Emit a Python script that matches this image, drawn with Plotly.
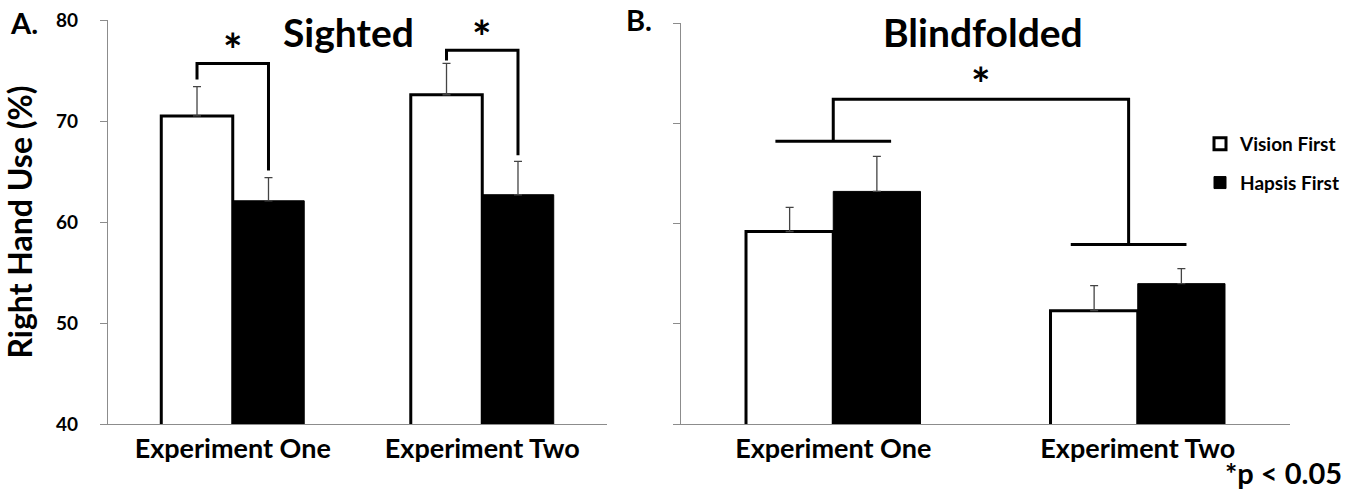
import plotly.graph_objects as go

# ---- data ----
experiments = ["Experiment One", "Experiment Two"]
sighted_vision = [70.5, 72.6]
sighted_vision_err = [2.9, 3.1]
sighted_hapsis = [62.1, 62.7]
sighted_hapsis_err = [2.3, 3.3]
blind_vision = [59.2, 51.3]
blind_vision_err = [2.4, 2.5]
blind_hapsis = [63.2, 54.0]
blind_hapsis_err = [3.5, 1.5]
y_ticks = [40, 50, 60, 70, 80]

# significance bracket levels (data units)
sighted_bracket_top = [75.7, 77.0]
sighted_bracket_left = [74.1, 76.0]
sighted_bracket_right = [65.1, 66.6]
blind_bracket_top = 72.4
blind_bracket_bars = [68.2, 57.9]

FONT = "Lato"
W, H = 1362, 491

fig = go.Figure()

def add_pair(vis, vis_err, hap, hap_err, xa, ya, show):
    fig.add_trace(go.Bar(
        x=experiments, y=vis, name="Vision First", xaxis=xa, yaxis=ya,
        marker=dict(color="white", line=dict(color="black", width=3)),
        error_y=dict(type="data", symmetric=False, array=vis_err,
                     arrayminus=[0] * len(vis_err), color="#444", thickness=1.3, width=4),
        showlegend=show, legendgroup="v"))
    fig.add_trace(go.Bar(
        x=experiments, y=hap, name="Hapsis First", xaxis=xa, yaxis=ya,
        marker=dict(color="black", line=dict(color="black", width=1)),
        error_y=dict(type="data", symmetric=False, array=hap_err,
                     arrayminus=[0] * len(hap_err), color="#444", thickness=1.3, width=4),
        showlegend=show, legendgroup="h"))

add_pair(sighted_vision, sighted_vision_err, sighted_hapsis, sighted_hapsis_err, "x", "y", True)
add_pair(blind_vision, blind_vision_err, blind_hapsis, blind_hapsis_err, "x2", "y2", False)

bargap = 0.427
half = (1 - bargap) / 4  # offset of each bar center from group center

line = dict(color="black", width=3)
# Sighted brackets
for i in range(2):
    xl, xr = i - half, i + half
    fig.add_shape(type="path", xref="x", yref="y", line=line,
                  path=f"M {xl} {sighted_bracket_left[i]} L {xl} {sighted_bracket_top[i]} "
                       f"L {xr} {sighted_bracket_top[i]} L {xr} {sighted_bracket_right[i]}")
    fig.add_annotation(x=i, y=sighted_bracket_top[i], xref="x", yref="y", text="<b>*</b>",
                       showarrow=False, yanchor="bottom", yshift=-16,
                       font=dict(family=FONT, size=46, color="black"))

# Blindfolded bracket
hw = 0.19
c0, c1 = 0.0, 0.97
fig.add_shape(type="line", xref="x2", yref="y2", x0=c0 - hw, x1=c0 + hw,
              y0=blind_bracket_bars[0], y1=blind_bracket_bars[0], line=line)
fig.add_shape(type="line", xref="x2", yref="y2", x0=c1 - hw, x1=c1 + hw,
              y0=blind_bracket_bars[1], y1=blind_bracket_bars[1], line=line)
fig.add_shape(type="path", xref="x2", yref="y2", line=line,
              path=f"M {c0} {blind_bracket_bars[0]} L {c0} {blind_bracket_top} "
                   f"L {c1} {blind_bracket_top} L {c1} {blind_bracket_bars[1]}")
fig.add_annotation(x=(c0 + c1) / 2, y=blind_bracket_top, xref="x2", yref="y2", text="<b>*</b>",
                   showarrow=False, yanchor="bottom", yshift=-14,
                   font=dict(family=FONT, size=46, color="black"))

axis_common = dict(showline=True, linecolor="#8c8c8c", linewidth=1.3, showgrid=False,
                   zeroline=False, automargin=False)

fig.update_layout(
    width=W, height=H,
    margin=dict(l=0, r=0, t=0, b=0, autoexpand=False),
    paper_bgcolor="white", plot_bgcolor="white",
    barmode="group", bargap=bargap, bargroupgap=0,
    font=dict(family=FONT, color="black"),
    xaxis=dict(domain=[108 / W, 607 / W], range=[-0.5, 1.5], anchor="y",
               tickfont=dict(family=FONT, size=27, weight="bold"), ticks="", **axis_common),
    yaxis=dict(domain=[67 / H, 471 / H], range=[40, 80], anchor="x",
               tickvals=y_ticks, ticks="outside", ticklen=7, tickcolor="#8c8c8c",
               ticklabelstandoff=18,
               tickfont=dict(family=FONT, size=19, weight="bold"),
               title=dict(text="Right Hand Use (%)", standoff=14,
                          font=dict(family=FONT, size=32, weight="bold")),
               **axis_common),
    xaxis2=dict(domain=[681 / W, 1290 / W], range=[-0.5, 1.5], anchor="y2",
                tickfont=dict(family=FONT, size=27, weight="bold"), ticks="", **axis_common),
    yaxis2=dict(domain=[67 / H, 468 / H], range=[40, 80], anchor="x2",
                tickvals=y_ticks, showticklabels=False, ticks="outside", ticklen=7,
                tickcolor="#8c8c8c", **axis_common),
    legend=dict(x=1200 / W, y=1 - 125 / H, xanchor="left", yanchor="top",
                font=dict(family=FONT, size=19, weight="bold"),
                tracegroupgap=11, bgcolor="rgba(0,0,0,0)"),
)

texts = [
    ("A.", 8, 22, 29, "left"),
    ("B.", 624, 20, 29, "left"),
    ("Sighted", 348, 32, 39, "center"),
    ("Blindfolded", 983, 32, 39, "center"),
    ("*p < 0.05", 1344, 472, 29, "right"),
]
for t, x, y, s, anc in texts:
    fig.add_annotation(x=x / W, y=1 - y / H, xref="paper", yref="paper", text=t,
                       showarrow=False, xanchor=anc, yanchor="middle",
                       font=dict(family=FONT, size=s, weight="bold", color="black"))

fig.write_html("out.html", config={"displayModeBar": False},
               post_script="document.body.style.margin='0';document.body.style.overflow='hidden';")
